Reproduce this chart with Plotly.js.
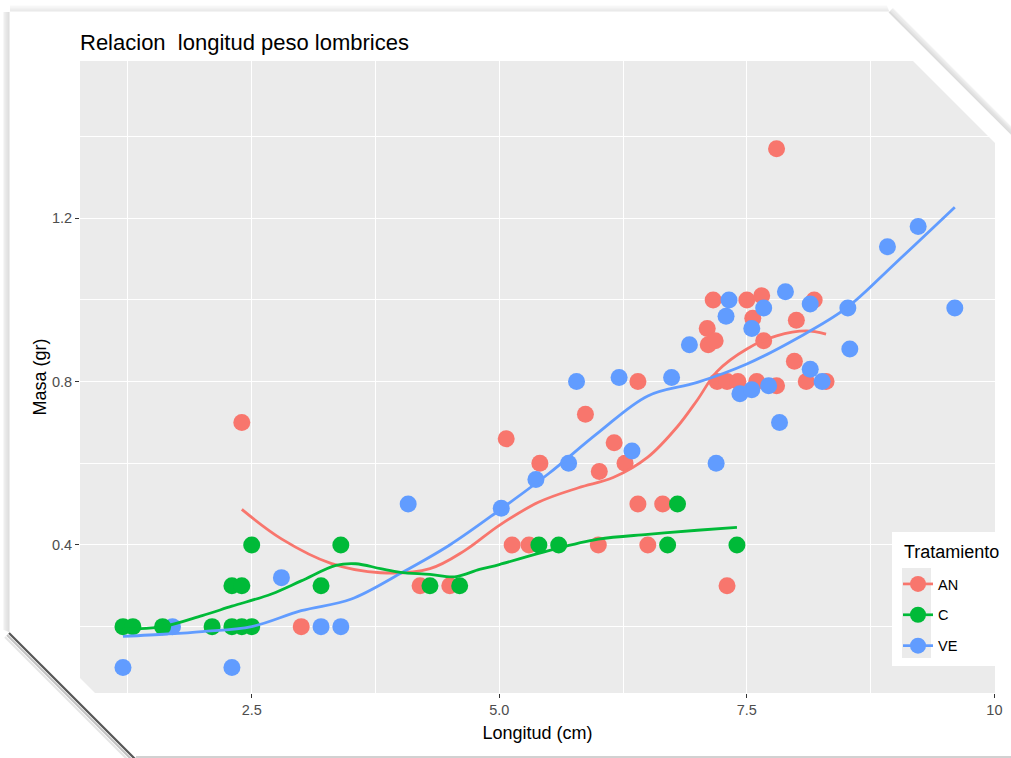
<!DOCTYPE html>
<html>
<head>
<meta charset="utf-8">
<script src="https://cdn.plot.ly/plotly-3.0.1.min.js"></script>
<style>
  html, body { margin: 0; padding: 0; background: #ffffff; }
  #chart { width: 1011px; height: 758px; }
</style>
</head>
<body>
<div id="chart"></div>
<script>
// Treatment groups and colours (ggplot default hue palette)
const tratamientos = ['AN', 'C', 'VE'];
const colores = ['#F8766D', '#00BA38', '#619CFF'];

// Earthworm length (cm) and mass (g) per treatment
const anLongitud = [2.4, 3.0, 4.2, 4.5, 5.07, 5.13, 5.3, 5.41, 5.87, 6.0, 6.01, 6.16, 6.27, 6.4, 6.4, 6.5, 6.65, 7.1, 7.11, 7.16, 7.18, 7.2, 7.3, 7.3, 7.41, 7.5, 7.56, 7.6, 7.65, 7.67, 7.8, 7.8, 7.98, 8.0, 8.1, 8.18, 8.3];
const anMasa     = [0.7, 0.2, 0.3, 0.3, 0.66, 0.4, 0.4, 0.6, 0.72, 0.4, 0.58, 0.65, 0.6, 0.8, 0.5, 0.4, 0.5, 0.93, 0.89, 1.0, 0.9, 0.8, 0.8, 0.3, 0.8, 1.0, 0.955, 0.8, 1.01, 0.9, 1.37, 0.79, 0.85, 0.95, 0.8, 1.0, 0.8];

const cLongitud = [1.2, 1.3, 1.6, 2.1, 2.3, 2.4, 2.5, 2.3, 2.4, 2.5, 3.2, 3.4, 4.3, 4.6, 5.4, 5.6, 6.7, 6.8, 7.4];
const cMasa     = [0.2, 0.2, 0.2, 0.2, 0.2, 0.2, 0.2, 0.3, 0.3, 0.4, 0.3, 0.4, 0.3, 0.3, 0.4, 0.4, 0.4, 0.5, 0.4];

const veLongitud = [1.2, 1.7, 2.3, 2.8, 3.2, 3.4, 4.08, 5.02, 5.37, 5.7, 5.78, 6.21, 6.34, 6.74, 6.92, 7.19, 7.29, 7.32, 7.43, 7.55, 7.55, 7.67, 7.72, 7.83, 7.89, 8.14, 8.14, 8.26, 8.52, 8.54, 8.92, 9.23, 9.6];
const veMasa     = [0.1, 0.2, 0.1, 0.32, 0.2, 0.2, 0.5, 0.49, 0.56, 0.6, 0.8, 0.81, 0.63, 0.81, 0.89, 0.6, 0.96, 1.0, 0.77, 0.78, 0.93, 0.98, 0.79, 0.7, 1.02, 0.99, 0.83, 0.8, 0.98, 0.88, 1.13, 1.18, 0.98];

// Smoothed (loess) trend per treatment
const anSuaveX = [2.4, 2.8, 3.3, 3.8, 4.3, 4.65, 5.0, 5.4, 5.8, 6.15, 6.5, 6.8, 7.0, 7.2, 7.5, 7.8, 8.1, 8.3];
const anSuaveY = [0.487, 0.415, 0.355, 0.332, 0.342, 0.386, 0.448, 0.505, 0.54, 0.565, 0.615, 0.69, 0.755, 0.825, 0.88, 0.912, 0.924, 0.916];

const cSuaveX = [1.2, 1.6, 2.0, 2.3, 2.7, 3.0, 3.35, 3.55, 3.8, 4.0, 4.3, 4.55, 4.8, 5.0, 5.5, 6.0, 6.5, 7.0, 7.4];
const cSuaveY = [0.194, 0.2, 0.227, 0.25, 0.28, 0.312, 0.35, 0.354, 0.342, 0.333, 0.328, 0.322, 0.34, 0.352, 0.386, 0.414, 0.426, 0.436, 0.443];

const veSuaveX = [1.2, 1.65, 2.0, 2.5, 3.0, 3.5, 4.0, 4.5, 5.0, 5.5, 6.0, 6.5, 7.0, 7.5, 8.0, 8.5, 9.0, 9.6];
const veSuaveY = [0.176, 0.182, 0.188, 0.2, 0.239, 0.267, 0.33, 0.4, 0.485, 0.575, 0.675, 0.765, 0.798, 0.843, 0.905, 0.979, 1.09, 1.227];

// Axis ticks
const xTicks = [2.5, 5.0, 7.5, 10];
const xTickText = ['2.5', '5.0', '7.5', '10'];
const yTicks = [0.4, 0.8, 1.2];
const yTickText = ['0.4', '0.8', '1.2'];

const FONT = 'Liberation Sans, Arial, Helvetica, sans-serif';
const W = 1011, H = 758;
const M = { l: 80, r: 16, t: 61, b: 65 };
const PW = W - M.l - M.r, PH = H - M.t - M.b;

// page pixel -> paper fraction helpers for the decorative frame
const fx = px => (px - M.l) / PW;
const fy = py => (H - M.b - py) / PH;
const path = pts => 'M' + pts.map(p => fx(p[0]).toFixed(5) + ',' + fy(p[1]).toFixed(5)).join(' L') + ' Z';
const seg = (x0, y0, x1, y1, color, width, opacity) => ({
  type: 'line', xref: 'paper', yref: 'paper', layer: 'above',
  x0: fx(x0), y0: fy(y0), x1: fx(x1), y1: fy(y1),
  line: { color: color, width: width }, opacity: opacity
});

// points: isolated (null separated) so that only markers are drawn while
// the legend key still shows marker + line
const gap = arr => arr.flatMap(v => [v, null]);

const grupos = [
  { name: 'AN', x: anLongitud, y: anMasa, sx: anSuaveX, sy: anSuaveY, color: colores[0], rank: 1 },
  { name: 'VE', x: veLongitud, y: veMasa, sx: veSuaveX, sy: veSuaveY, color: colores[2], rank: 3 },
  { name: 'C',  x: cLongitud,  y: cMasa,  sx: cSuaveX,  sy: cSuaveY,  color: colores[1], rank: 2 }
];

const traces = [];
grupos.forEach(g => {
  traces.push({
    type: 'scatter', mode: 'lines+markers', name: g.name, legendgroup: g.name, legendrank: g.rank,
    x: gap(g.x), y: gap(g.y), connectgaps: false,
    marker: { color: g.color, size: 17, line: { width: 0 } },
    line: { color: g.color, width: 2.7 },
    hoverinfo: 'x+y+name'
  });
});
grupos.forEach(g => {
  traces.push({
    type: 'scatter', mode: 'lines', name: g.name, legendgroup: g.name, showlegend: false,
    x: g.sx, y: g.sy,
    line: { color: g.color, width: 2.8, shape: 'spline', smoothing: 1 },
    hoverinfo: 'skip'
  });
});

const shapes = [];
// legend panel and key background
shapes.push({ type: 'rect', xref: 'paper', yref: 'paper', layer: 'above',
  x0: fx(892), x1: fx(1000), y0: fy(532), y1: fy(666), fillcolor: '#ffffff', line: { width: 0 } });
shapes.push({ type: 'rect', xref: 'paper', yref: 'paper', layer: 'above',
  x0: fx(902), x1: fx(931), y0: fy(568), y1: fy(658), fillcolor: '#EBEBEB', line: { width: 0 } });

// clipped panel corners
shapes.push({ type: 'path', xref: 'paper', yref: 'paper', layer: 'above',
  path: path([[911, 59], [997, 59], [997, 145]]), fillcolor: '#ffffff', line: { width: 0 } });
shapes.push({ type: 'path', xref: 'paper', yref: 'paper', layer: 'above',
  path: path([[78, 676], [78, 695], [97, 695]]), fillcolor: '#ffffff', line: { width: 0 } });

// paper frame shadows
for (let i = 0; i < 6; i++) {
  const op = 0.22 - i * 0.035;
  // top edge
  shapes.push(seg(10, 11 - i, 889 - i * 0.4, 11 - i, '#9a9a9a', 1, op));
  // left edge
  shapes.push(seg(9 - i, 12, 9 - i, 632 - i * 0.4, '#8a8a8a', 1, op + 0.08));
  // top-right diagonal
  shapes.push(seg(889 + i * 0.7, 12 - i * 0.7, 1012 + i * 0.7, 135 - i * 0.7, '#8a8a8a', 1.2, op + 0.05));
}
// bottom-left diagonal (darker cast shadow)
shapes.push(seg(9, 633, 135, 759, '#3a3a3a', 2.2, 0.85));
shapes.push(seg(7, 635, 133, 761, '#7a7a7a', 2, 0.45));
shapes.push(seg(5, 637, 131, 763, '#aaaaaa', 2, 0.3));
// bottom edge
shapes.push(seg(136, 757, 1011, 757, '#9a9a9a', 1.5, 0.6));

const layout = {
  width: W, height: H,
  margin: { l: M.l, r: M.r, t: M.t, b: M.b, pad: 0, autoexpand: false },
  paper_bgcolor: '#ffffff',
  plot_bgcolor: '#EBEBEB',
  font: { family: FONT, color: '#000000' },
  title: {
    text: 'Relacion  longitud peso lombrices',
    font: { family: FONT, size: 22, color: '#000000' },
    x: 0, xref: 'paper', xanchor: 'left',
    y: 1 - 42 / H, yref: 'container', yanchor: 'middle'
  },
  xaxis: {
    range: [0.766, 10.006],
    tickvals: xTicks, ticktext: xTickText,
    ticks: 'outside', ticklen: 4, tickwidth: 1.1, tickcolor: '#333333',
    tickfont: { family: FONT, size: 14.5, color: '#4D4D4D' },
    showgrid: true, gridcolor: '#ffffff', gridwidth: 1.3,
    minor: { dtick: 1.25, tick0: 0, showgrid: true, gridcolor: '#ffffff', gridwidth: 0.6, ticks: '' },
    zeroline: false, showline: false,
    title: { text: 'Longitud (cm)', font: { family: FONT, size: 18, color: '#000000' }, standoff: 8 }
  },
  yaxis: {
    range: [0.0375, 1.585],
    tickvals: yTicks, ticktext: yTickText,
    ticks: 'outside', ticklen: 4, tickwidth: 1.1, tickcolor: '#333333',
    tickfont: { family: FONT, size: 14.5, color: '#4D4D4D' },
    showgrid: true, gridcolor: '#ffffff', gridwidth: 1.3,
    minor: { dtick: 0.2, tick0: 0, showgrid: true, gridcolor: '#ffffff', gridwidth: 0.6, ticks: '' },
    zeroline: false, showline: false,
    title: { text: 'Masa (gr)', font: { family: FONT, size: 18, color: '#000000' }, standoff: 0 }
  },
  showlegend: true,
  legend: {
    x: fx(898), y: fy(568), xanchor: 'left', yanchor: 'top',
    bgcolor: 'rgba(0,0,0,0)', borderwidth: 0,
    traceorder: 'grouped', tracegroupgap: 9,
    font: { family: FONT, size: 14.5, color: '#000000' },
    itemwidth: 30
  },
  annotations: [{
    text: 'Tratamiento', xref: 'paper', yref: 'paper',
    x: fx(902), y: fy(552), xanchor: 'left', yanchor: 'middle', showarrow: false,
    font: { family: FONT, size: 18, color: '#000000' }
  }],
  shapes: shapes,
  hovermode: 'closest'
};

Plotly.newPlot('chart', traces, layout, { displayModeBar: false, responsive: false });
</script>
</body>
</html>
